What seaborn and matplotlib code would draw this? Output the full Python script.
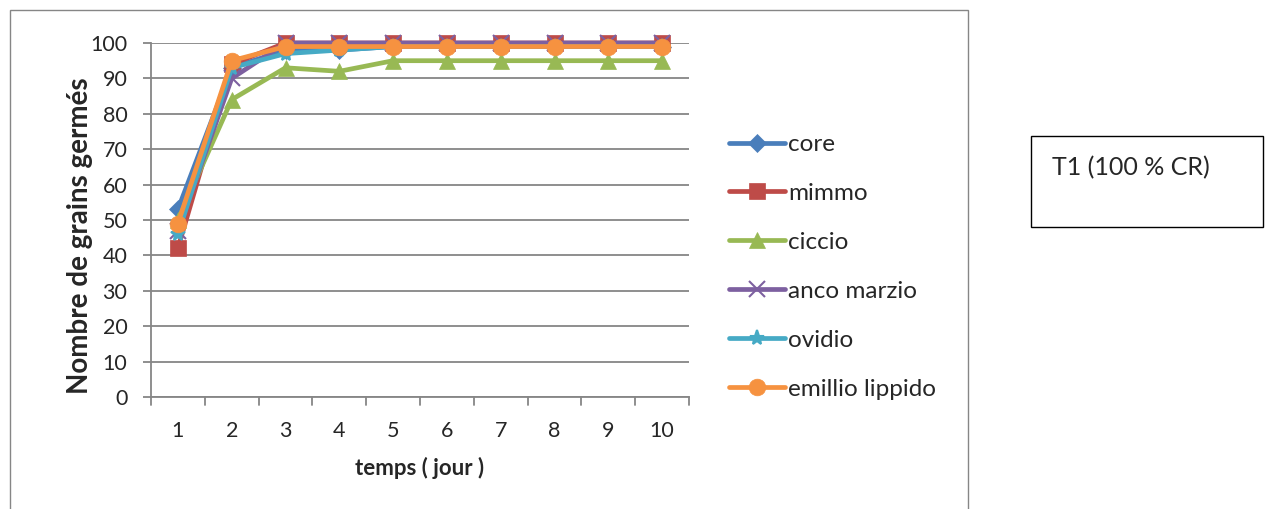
import matplotlib
matplotlib.use("Agg")
import matplotlib.pyplot as plt
import seaborn as sns
import pandas as pd
from matplotlib.lines import Line2D
from matplotlib.patches import Rectangle

days = [1, 2, 3, 4, 5, 6, 7, 8, 9, 10]
series_names = ["core", "mimmo", "ciccio", "anco marzio", "ovidio", "emillio lippido"]
core = [53, 93, 98, 98, 99, 99, 99, 99, 99, 99]
mimmo = [42, 94, 100, 100, 100, 100, 100, 100, 100, 100]
ciccio = [50, 84, 93, 92, 95, 95, 95, 95, 95, 95]
anco_marzio = [47, 90, 100, 100, 100, 100, 100, 100, 100, 100]
ovidio = [46, 93, 97, 98, 99, 99, 99, 99, 99, 99]
emillio_lippido = [49, 95, 99, 99, 99, 99, 99, 99, 99, 99]
yticks = [0, 10, 20, 30, 40, 50, 60, 70, 80, 90, 100]

values = [core, mimmo, ciccio, anco_marzio, ovidio, emillio_lippido]
colors = ["#4A7EBB", "#BE4B48", "#98B954", "#7D60A0", "#46AAC5", "#F69240"]
markers = ["D", "s", "^", "x", "*", "o"]
msizes = [9, 12, 12, 11, 11, 12]

sns.set_theme(style="white")
plt.rcParams["font.family"] = ["Lato", "DejaVu Sans"]

fig = plt.figure(figsize=(12.65, 5.09), dpi=100)
W, H = 1265, 509
ax = fig.add_axes([151 / W, 1 - 397 / H, (689 - 151) / W, (397 - 43) / H])

rows = []
for name, vals in zip(series_names, values):
    for d, v in zip(days, vals):
        rows.append({"day": d, "val": v, "serie": name})
df = pd.DataFrame(rows)

handles = []
for name, col, mk, ms in zip(series_names, colors, markers, msizes):
    sub = df[df["serie"] == name]
    mew = 1.5 if mk in ("x", "*") else 0.5
    sns.lineplot(data=sub, x="day", y="val", ax=ax, color=col, linewidth=3.4,
                 marker=mk, markersize=ms, markeredgecolor=col,
                 markeredgewidth=mew, legend=False, zorder=3, clip_on=False)
    handles.append(Line2D([], [], color=col, linewidth=3.4, marker=mk,
                          markersize=ms, markeredgecolor=col,
                          markeredgewidth=mew, solid_capstyle="round"))

ax.set_xlim(0.5, 10.5)
ax.set_ylim(0, 100)
ax.set_yticks(yticks)
ax.set_xticks(days)
ax.set_xticklabels([str(d) for d in days], fontsize=15.5)
ax.set_yticklabels([str(t) for t in yticks], fontsize=15.5)
ax.yaxis.grid(True, color="#868686", linewidth=1.3)
ax.xaxis.grid(False)
for s in ["top", "right"]:
    ax.spines[s].set_visible(False)
for s in ["left", "bottom"]:
    ax.spines[s].set_color("#868686")
    ax.spines[s].set_linewidth(1.3)
ax.tick_params(axis="y", length=6, color="#868686", width=1.3, left=True, pad=11)
ax.tick_params(axis="x", length=0, pad=17)
# category boundary ticks on x axis
for b in [0.5 + i for i in range(11)]:
    ax.plot([b, b], [0, -2.2], color="#868686", linewidth=1.3, clip_on=False)

ax.set_xlabel("temps ( jour )", fontsize=16, fontweight="bold", labelpad=12)
ax.set_ylabel("Nombre de grains germés", fontsize=20, fontweight="bold")
ax.yaxis.set_label_coords(-0.108, 0.455)

leg = ax.legend(handles, series_names, loc="upper left",
                bbox_to_anchor=(729 / W, 1 - 134 / H), bbox_transform=fig.transFigure,
                frameon=False, fontsize=17.5, handlelength=2.3, handletextpad=0.12,
                labelspacing=1.15, borderaxespad=0, borderpad=0)

# outer chart border
fig.patches.append(Rectangle((10 / W, -0.05), (968 - 10) / W, 1 - 10 / H + 0.05,
                             transform=fig.transFigure, fill=False,
                             edgecolor="#868686", linewidth=1.0))
# T1 box
fig.patches.append(Rectangle((1031 / W, 1 - 227 / H), (1263 - 1031) / W, (227 - 136) / H,
                             transform=fig.transFigure, fill=False,
                             edgecolor="black", linewidth=1.0))
fig.text(1052 / W, 1 - 168 / H, "T1 (100 % CR)", fontsize=18, va="center", ha="left")

fig.savefig("out.png", dpi=100)
